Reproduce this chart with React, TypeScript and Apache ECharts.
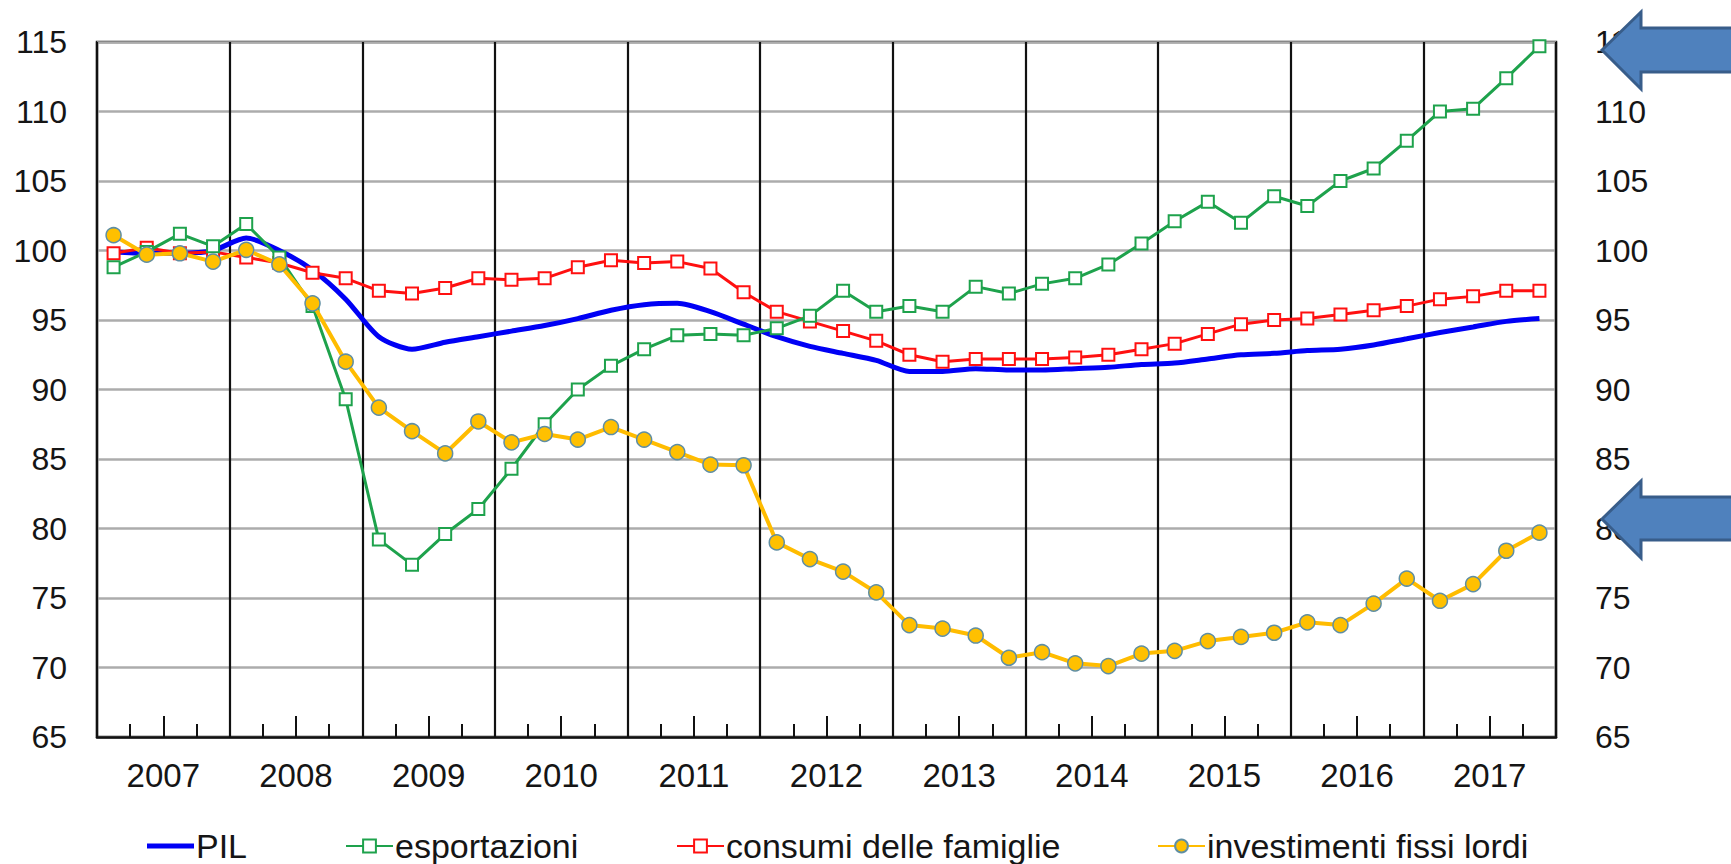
import React, { useEffect, useRef } from "react";
import * as echarts from "echarts";

const years = ["2007", "2008", "2009", "2010", "2011", "2012", "2013", "2014", "2015", "2016", "2017"];
const quarters: string[] = [];
years.forEach((y) => ["T1", "T2", "T3", "T4"].forEach((q) => quarters.push(q + " " + y)));

const yTicks = { min: 65, max: 115, interval: 5 };

const pil = [
  99.9, 99.8, 99.8, 100.0, 100.9, 100.0, 98.6, 96.5,
  93.8, 92.9, 93.4, 93.8, 94.2, 94.6, 95.1, 95.7,
  96.1, 96.2, 95.6, 94.7, 93.8, 93.1, 92.6, 92.1,
  91.3, 91.3, 91.5, 91.4, 91.4, 91.5, 91.6, 91.8,
  91.9, 92.2, 92.5, 92.6, 92.8, 92.9, 93.2, 93.65,
  94.1, 94.5, 94.9, 95.1,
];

const esportazioni = [
  98.8, 99.9, 101.2, 100.3, 101.9, 99.5, 96.0, 89.3,
  79.2, 77.4, 79.6, 81.4, 84.3, 87.5, 90.0, 91.7,
  92.9, 93.9, 94.0, 93.9, 94.4, 95.3, 97.1, 95.6,
  96.0, 95.6, 97.4, 96.9, 97.6, 98.0, 99.0, 100.5,
  102.1, 103.5, 102.0, 103.9, 103.2, 105.0, 105.9, 107.9,
  110.0, 110.2, 112.4, 114.7,
];

const consumi = [
  99.8, 100.2, 99.8, 99.9, 99.5, 99.1, 98.4, 98.0,
  97.1, 96.9, 97.3, 98.0, 97.9, 98.0, 98.8, 99.3,
  99.1, 99.2, 98.7, 97.0, 95.6, 94.9, 94.2, 93.5,
  92.5, 92.0, 92.2, 92.2, 92.2, 92.3, 92.5, 92.9,
  93.3, 94.0, 94.7, 95.0, 95.1, 95.4, 95.7, 96.0,
  96.5, 96.7, 97.1, 97.1,
];

const investimenti = [
  101.1, 99.7, 99.8, 99.2, 100.05, 99.0, 96.2, 92.0,
  88.7, 87.0, 85.4, 87.7, 86.2, 86.8, 86.4, 87.3,
  86.4, 85.5, 84.6, 84.55, 79.0, 77.8, 76.9, 75.4,
  73.05, 72.8, 72.3, 70.7, 71.1, 70.3, 70.1, 71.0,
  71.2, 71.9, 72.2, 72.5, 73.25, 73.05, 74.6, 76.4,
  74.8, 76.0, 78.4, 79.7,
];

const names = ["PIL", "esportazioni", "consumi delle famiglie", "investimenti fissi lordi"];
const legendLeft = [147, 345, 676, 1157];

const FONT = "'Liberation Sans', Arial, sans-serif";
const TXT = "#151515";

export default function App() {
  const ref = useRef<HTMLDivElement>(null);
  useEffect(() => {
    document.body.style.margin = "0";
    const chart = echarts.init(ref.current!, null, { renderer: "svg" });
    const labelStyle = { fontSize: 32, color: TXT, fontFamily: FONT };
    const legendText = { fontSize: 34, color: TXT, fontFamily: FONT, padding: [0, 0, 0, -3] };
    chart.setOption({
      animation: false,
      backgroundColor: "#ffffff",
      textStyle: { fontFamily: FONT },
      grid: {
        left: 97,
        top: 42,
        right: 175,
        bottom: 127,
        show: true,
        borderColor: "#1f1f1f",
        borderWidth: 2.5,
      },
      legend: names.map((n, i) =>
        i === 0
          ? {
              data: [{ name: n, icon: "rect" }],
              left: legendLeft[i],
              top: 829,
              padding: 0,
              itemWidth: 47,
              itemHeight: 5,
              selectedMode: false,
              textStyle: legendText,
            }
          : {
              data: [n],
              left: legendLeft[i],
              top: 829,
              padding: 0,
              itemWidth: 47,
              itemHeight: 16,
              selectedMode: false,
              textStyle: legendText,
            }
      ),
      xAxis: [
        {
          type: "category",
          data: quarters,
          boundaryGap: true,
          position: "bottom",
          axisLine: { show: true, lineStyle: { color: "#111", width: 2.5 } },
          axisTick: { show: true, inside: true, length: 13, interval: 0, lineStyle: { color: "#111", width: 2 } },
          axisLabel: { show: false },
          splitLine: { show: false },
        },
        {
          type: "category",
          data: years,
          boundaryGap: true,
          position: "bottom",
          axisLine: { show: false },
          axisTick: {
            show: true,
            inside: true,
            alignWithLabel: true,
            length: 21,
            interval: 0,
            lineStyle: { color: "#111", width: 2 },
          },
          axisLabel: { ...labelStyle, fontSize: 33, margin: 22, interval: 0 },
          splitLine: { show: true, interval: 0, lineStyle: { color: "#111", width: 2.2 } },
        },
      ],
      yAxis: [
        {
          type: "value",
          ...yTicks,
          position: "left",
          axisLine: { show: false },
          axisTick: { show: false },
          axisLabel: { ...labelStyle, margin: 30 },
          splitLine: { show: true, lineStyle: { color: "#acacac", width: 2.5 } },
        },
        {
          type: "value",
          ...yTicks,
          position: "right",
          axisLine: { show: false },
          axisTick: { show: false },
          axisLabel: { ...labelStyle, margin: 39 },
          splitLine: { show: false },
        },
      ],
      series: [
        {
          name: names[0],
          type: "line",
          data: pil,
          symbol: "none",
          smooth: 0.25,
          lineStyle: { color: "#0000f5", width: 5 },
          itemStyle: { color: "#0000f5" },
          z: 2,
        },
        {
          name: names[2],
          type: "line",
          data: consumi,
          symbol: "rect",
          symbolSize: 12,
          lineStyle: { color: "#ff1010", width: 3 },
          itemStyle: { color: "#ffffff", borderColor: "#ff1010", borderWidth: 2 },
          z: 3,
        },
        {
          name: names[1],
          type: "line",
          data: esportazioni,
          symbol: "rect",
          symbolSize: 12,
          lineStyle: { color: "#1ea24c", width: 3 },
          itemStyle: { color: "#ffffff", borderColor: "#1ea24c", borderWidth: 2 },
          z: 4,
        },
        {
          name: names[3],
          type: "line",
          data: investimenti,
          symbol: "circle",
          symbolSize: 15,
          lineStyle: { color: "#ffbc00", width: 4 },
          itemStyle: { color: "#ffc000", borderColor: "#5f8ea3", borderWidth: 1.5 },
          z: 5,
        },
      ],
      graphic: [
        {
          type: "polygon",
          z: 100,
          shape: {
            points: [
              [1602, 50], [1641, 12], [1641, 28], [1745, 28],
              [1745, 72], [1641, 72], [1641, 89],
            ],
          },
          style: { fill: "#4f81bd", stroke: "#385d8a", lineWidth: 3, lineJoin: "miter" },
        },
        {
          type: "polygon",
          z: 100,
          shape: {
            points: [
              [1602, 519], [1641, 481], [1641, 497], [1745, 497],
              [1745, 540], [1641, 540], [1641, 558],
            ],
          },
          style: { fill: "#4f81bd", stroke: "#385d8a", lineWidth: 3, lineJoin: "miter" },
        },
      ],
    });
    return () => chart.dispose();
  }, []);
  return (
    <div
      ref={ref}
      style={{ position: "fixed", left: 0, top: 0, width: 1731, height: 864, background: "#fff" }}
    />
  );
}
